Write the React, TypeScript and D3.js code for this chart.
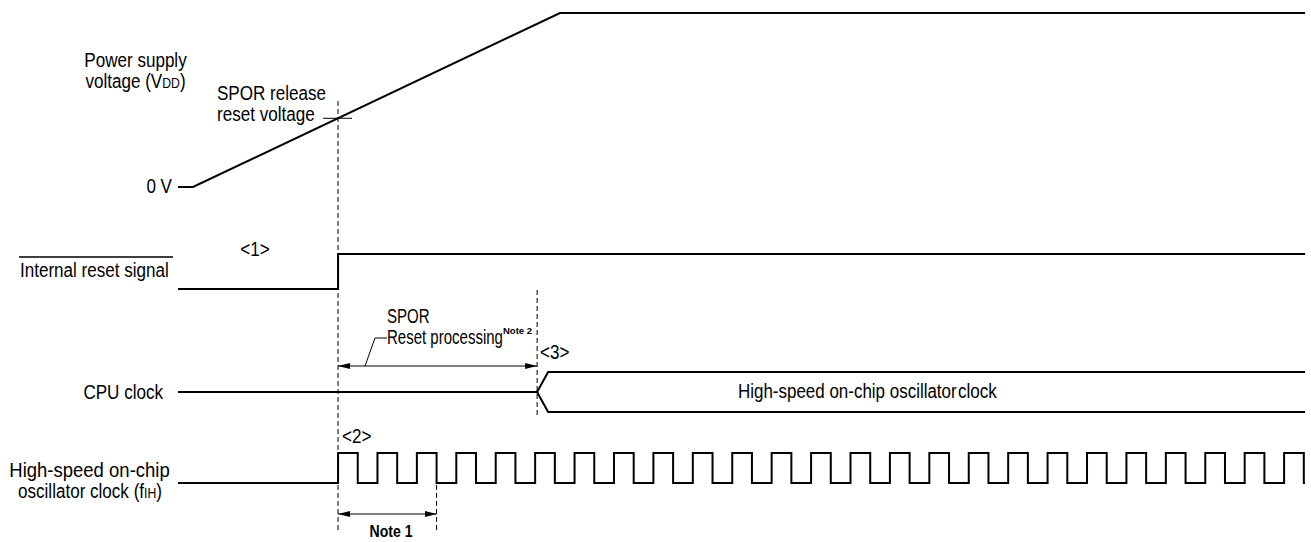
import React from "react";
import * as d3 from "d3";

// Time axis in units of fIH clock cycles; t = 0 is the SPOR release instant
const timeDomain = [-4.06, 24.53];
const vddPoints = [
  { t: -4.06, v: 0 },
  { t: -3.68, v: 0 },
  { t: 5.63, v: 1 },
  { t: 24.53, v: 1 },
];
const sporThreshold = 0.395;
const resetPoints = [
  { t: -4.06, v: 0 },
  { t: 0, v: 1 },
  { t: 24.53, v: 1 },
];
const cpuSwitchT = 5.05;
const clockRises = [0, 1, 2, 3, 4, 5, 6, 7, 8, 9, 10, 11, 12, 13, 14, 15, 16, 17, 18, 19, 20, 21, 22, 23, 24];
const clockHigh = 0.5;
const note1End = 2.5;

const W = 1311;
const H = 542;
const FONT = "'Liberation Sans', Arial, Helvetica, sans-serif";

function T({
  x,
  y,
  sx = 0.875,
  size = 19.5,
  anchor = "start",
  weight = "normal",
  children,
}: {
  x: number;
  y: number;
  sx?: number;
  size?: number;
  anchor?: "start" | "middle" | "end";
  weight?: string;
  children: React.ReactNode;
}) {
  return (
    <text
      transform={`translate(${x},${y}) scale(${sx},1)`}
      fontFamily={FONT}
      fontSize={size}
      fontWeight={weight}
      textAnchor={anchor}
      fill="#000"
    >
      {children}
    </text>
  );
}

export default function App() {
  const x = d3.scaleLinear().domain(timeDomain).range([178, 1305]);
  const yV = d3.scaleLinear().domain([0, 1]).range([187, 13]);
  const yR = d3.scaleLinear().domain([0, 1]).range([289, 254]);
  const yC = d3.scaleLinear().domain([0, 1]).range([483, 453]);
  const cpuY = 392;
  const cpuHi = 372;
  const cpuLo = 412;

  const vddLine = d3
    .line<{ t: number; v: number }>()
    .x((d) => x(d.t))
    .y((d) => yV(d.v))(vddPoints);

  const resetLine = d3
    .line<{ t: number; v: number }>()
    .curve(d3.curveStepAfter)
    .x((d) => x(d.t))
    .y((d) => yR(d.v))(resetPoints);

  const clkPts: { t: number; v: number }[] = [{ t: timeDomain[0], v: 0 }];
  clockRises.forEach((r) => {
    clkPts.push({ t: r, v: 1 });
    clkPts.push({ t: r + clockHigh, v: 0 });
  });
  clkPts.push({ t: timeDomain[1], v: 0 });
  const clkLine = d3
    .line<{ t: number; v: number }>()
    .curve(d3.curveStepAfter)
    .x((d) => x(d.t))
    .y((d) => yC(d.v))(clkPts);

  const xs = x(cpuSwitchT);
  const cpuPath = `M${x(timeDomain[0])},${cpuY}L${xs},${cpuY}`;
  const cpuUpper = `M${xs},${cpuY}L${xs + 11},${cpuHi}L${x(timeDomain[1])},${cpuHi}`;
  const cpuLower = `M${xs},${cpuY}L${xs + 11},${cpuLo}L${x(timeDomain[1])},${cpuLo}`;

  const x0 = x(0);
  const thrY = yV(sporThreshold);
  const arrowY = 366;
  const note1Y = 514;

  return (
    <svg
      width={W}
      height={H}
      style={{ position: "absolute", left: 0, top: 0, background: "#fff" }}
    >
      <defs>
        <marker id="ah" viewBox="0 0 12 6" refX="12" refY="3" markerWidth="12" markerHeight="6" orient="auto-start-reverse" markerUnits="userSpaceOnUse">
          <path d="M0,0L12,3L0,6Z" fill="#000" />
        </marker>
      </defs>

      {/* dashed reference lines */}
      <line x1={x0} x2={x0} y1={101} y2={531} stroke="#000" strokeWidth={1} strokeDasharray="5,3" />
      <line x1={xs} x2={xs} y1={290} y2={416} stroke="#000" strokeWidth={1} strokeDasharray="5,3" />
      <line x1={x(note1End)} x2={x(note1End)} y1={485} y2={531} stroke="#000" strokeWidth={1} strokeDasharray="5,3" />

      {/* VDD */}
      <path d={vddLine || ""} fill="none" stroke="#000" strokeWidth={2} />
      <line x1={323} x2={352} y1={thrY} y2={thrY} stroke="#000" strokeWidth={1} />
      <T x={135.5} y={67} anchor="middle">Power supply</T>
      <T x={135.5} y={88} anchor="middle">
        voltage (V<tspan fontSize={14}>DD</tspan>)
      </T>
      <T x={217} y={100}>SPOR release</T>
      <T x={217} y={121}>reset voltage</T>
      <T x={172} y={193} anchor="end">0 V</T>

      {/* Internal reset */}
      <path d={resetLine || ""} fill="none" stroke="#000" strokeWidth={2} />
      <line x1={19} x2={173} y1={257} y2={257} stroke="#000" strokeWidth={1.3} />
      <T x={20} y={277}>Internal reset signal</T>
      <T x={255} y={256} anchor="middle">&lt;1&gt;</T>

      {/* SPOR reset processing */}
      <T x={387} y={323} sx={0.77}>SPOR</T>
      <T x={387} y={344} sx={0.77}>Reset processing</T>
      <T x={503} y={334} size={9.5} sx={1} weight="bold">Note 2</T>
      <path d={`M387,338L375,338L365,${arrowY}`} fill="none" stroke="#000" strokeWidth={1} />
      <line x1={x0} x2={xs} y1={arrowY} y2={arrowY} stroke="#000" strokeWidth={1} markerStart="url(#ah)" markerEnd="url(#ah)" />
      <T x={540} y={359}>&lt;3&gt;</T>

      {/* CPU clock */}
      <path d={cpuPath} fill="none" stroke="#000" strokeWidth={2} />
      <path d={cpuUpper} fill="none" stroke="#000" strokeWidth={2} />
      <path d={cpuLower} fill="none" stroke="#000" strokeWidth={2} />
      <T x={163} y={399} anchor="end">CPU clock</T>
      <T x={738} y={398} sx={0.87}>High-speed on-chip oscillator</T>
      <T x={958} y={398}>clock</T>

      {/* fIH clock */}
      <path d={clkLine || ""} fill="none" stroke="#000" strokeWidth={2} />
      <T x={342} y={443}>&lt;2&gt;</T>
      <T x={89.5} y={477} anchor="middle" sx={0.95}>High-speed on-chip</T>
      <T x={90} y={498} anchor="middle">
        oscillator clock (f<tspan fontSize={14}>IH</tspan>)
      </T>
      <line x1={x0} x2={x(note1End)} y1={note1Y} y2={note1Y} stroke="#000" strokeWidth={1} markerStart="url(#ah)" markerEnd="url(#ah)" />
      <T x={391} y={537} size={16} sx={0.88} weight="bold" anchor="middle">Note 1</T>
    </svg>
  );
}
